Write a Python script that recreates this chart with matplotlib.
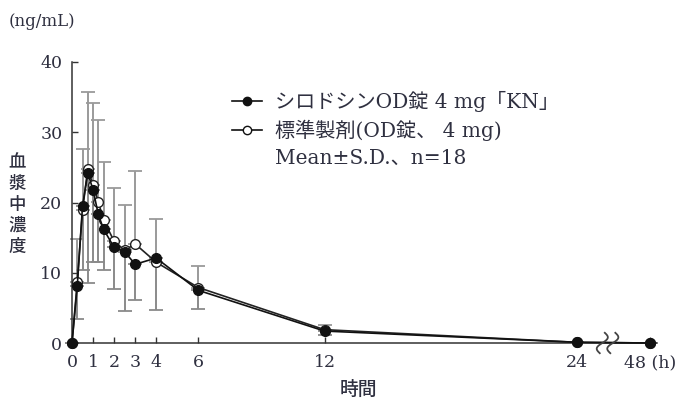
import matplotlib
matplotlib.use("Agg")
import matplotlib.pyplot as plt
from matplotlib.lines import Line2D
import numpy as np

# ---- data ----
times = [0, 0.25, 0.5, 0.75, 1, 1.25, 1.5, 2, 2.5, 3, 4, 6, 12, 24, 48]
test_mean = [0, 8.1, 19.5, 24.2, 21.8, 18.3, 16.2, 13.6, 13.0, 11.2, 12.1, 7.5, 1.7, 0.1, 0.0]
test_sd_lower = [0, 4.7, 9.1, 15.6, 10.3, 6.7, 5.8, 5.9, 8.4, 5.1, 7.4, 2.6, 0.5, 0, 0]
ref_mean = [0, 8.7, 18.9, 24.8, 22.5, 20.1, 17.5, 14.5, 13.2, 14.1, 11.5, 7.9, 1.9, 0.1, 0.0]
ref_sd_upper = [0, 6.1, 8.7, 10.9, 11.6, 11.6, 8.3, 7.6, 6.4, 10.4, 6.2, 3.0, 0.7, 0, 0]
xtick_vals = [0, 1, 2, 3, 4, 6, 12, 24, 48]
xtick_labels = ["0", "1", "2", "3", "4", "6", "12", "24", "48 (h)"]
yticks = [0, 10, 20, 30, 40]
label_test = "シロドシンOD錠 4 mg「KN」"
label_ref = "標準製剤(OD錠、 4 mg)"
label_note = "Mean±S.D.、n=18"

BREAK_AT = 24.0
AFTER_SCALE = 3.47 / 24.0


def xpos(t):
    t = np.asarray(t, dtype=float)
    return np.where(t <= BREAK_AT, t, BREAK_AT + (t - BREAK_AT) * AFTER_SCALE)


TXT = "#2f3040"
FONTS = ["DejaVu Serif", "Noto Sans CJK JP"]
JP = ["Noto Sans CJK JP", "DejaVu Serif"]

fig = plt.figure(figsize=(6.77, 4.01), dpi=100)
ax = fig.add_axes([72 / 677, 58 / 401, 585 / 677, 281 / 401])

x = xpos(times)
# error bars: reference upper, test lower
ax.errorbar(x, ref_mean, yerr=[np.zeros(len(times)), ref_sd_upper], fmt="none",
            ecolor="#9a9a9a", elinewidth=1.4, capsize=5, capthick=1.3, zorder=1, clip_on=False)
ax.errorbar(x, test_mean, yerr=[test_sd_lower, np.zeros(len(times))], fmt="none",
            ecolor="#8a8a8a", elinewidth=1.4, capsize=5, capthick=1.3, zorder=1, clip_on=False)

ax.plot(x, ref_mean, "-", color="#222222", lw=1.2, marker="o", ms=7,
        mfc="white", mec="#222222", mew=1.0, zorder=3, clip_on=False)
ax.plot(x, test_mean, "-", color="#111111", lw=1.2, marker="o", ms=7,
        mfc="#111111", mec="#111111", zorder=4, clip_on=False)

ax.set_xlim(0, 27.8)
ax.set_ylim(0, 40)
for s in ["top", "right"]:
    ax.spines[s].set_visible(False)
for s in ["left", "bottom"]:
    ax.spines[s].set_color("#333333")
    ax.spines[s].set_linewidth(1.1)

ax.set_yticks(yticks)
ax.set_yticklabels([str(v) for v in yticks])
ax.set_xticks(xpos(xtick_vals))
ax.set_xticklabels(xtick_labels)
ax.tick_params(direction="in", length=4, width=1, colors="#333333",
               labelsize=12.5, labelcolor=TXT)
ax.tick_params(axis="x", pad=8)
ax.tick_params(axis="y", pad=7)
for lab in ax.get_xticklabels() + ax.get_yticklabels():
    lab.set_family(FONTS)

# axis break marks
tb = np.linspace(-1, 1, 60)
for xc in (25.2, 25.7):
    xb = xc + 0.2 * np.sin(tb * np.pi) + 0.12 * tb
    yb = tb * 1.45
    ax.plot(xb, yb, color="#444444", lw=1.3, clip_on=False, zorder=5)

# texts
fig.text(9 / 677, 1 - 22 / 401, "(ng/mL)", family=FONTS, fontsize=12,
         color=TXT, va="center", ha="left")
fig.text(358 / 677, 1 - 389 / 401, "時間", family=JP, fontsize=13.5,
         color=TXT, va="center", ha="center", weight="medium")
fig.text(17 / 677, 1 - 205 / 401, "\n".join("血漿中濃度"), family=JP, fontsize=12.5,
         color=TXT, va="center", ha="center", linespacing=1.22, weight="medium")

# legend
lx0, lx1, lm = 232 / 677, 262 / 677, 247 / 677
for yy, face in ((101, "#111111"), (130, "white")):
    yf = 1 - yy / 401
    fig.add_artist(Line2D([lx0, lx1], [yf, yf], color="#111111", lw=1.2,
                          transform=fig.transFigure))
    fig.add_artist(Line2D([lm], [yf], marker="o", ms=6, mfc=face, mec="#111111",
                          mew=1.0, transform=fig.transFigure))
fig.text(275 / 677, 1 - 101 / 401, label_test, family=FONTS, fontsize=14.5,
         color=TXT, va="center", ha="left")
fig.text(275 / 677, 1 - 130 / 401, label_ref, family=FONTS, fontsize=14.5,
         color=TXT, va="center", ha="left")
fig.text(275 / 677, 1 - 158 / 401, label_note, family=FONTS, fontsize=14.5,
         color=TXT, va="center", ha="left")

fig.savefig("out.png", dpi=100)
